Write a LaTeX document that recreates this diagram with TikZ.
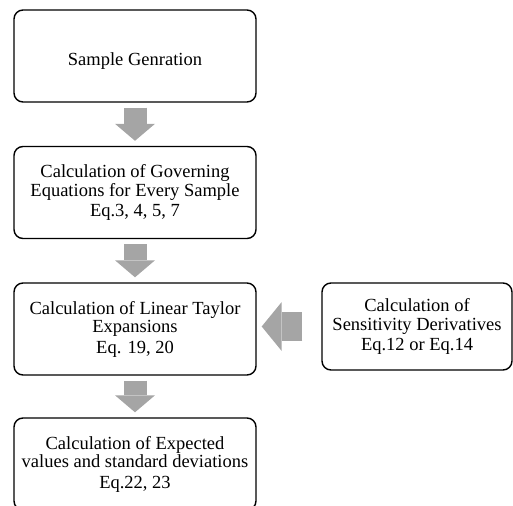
\documentclass[tikz,border=0pt]{standalone}
\usepackage{fontspec}
\setmainfont{Liberation Serif}
\usetikzlibrary{arrows.meta}
\definecolor{arrowgray}{HTML}{A5A5A5}

\begin{document}
\begin{tikzpicture}[x=1pt,y=-1pt,
  box/.style={draw,line width=1.4pt,rounded corners=9pt,
    minimum width=242pt,minimum height=92pt,inner sep=0pt,
    font=\fontsize{18.5}{18.5}\selectfont},
  steps/.style={box,align=center},
  flow/.style={draw=arrowgray,line width=23pt,shorten <=5pt,shorten >=5pt,
    -{Triangle[length=17pt,width=40pt,line width=0pt]}}]
\useasboundingbox (0,0) rectangle (513,505);
\node[box,text height=22pt,text depth=2pt] (gen) at (135,56) {Sample Genration};
\node[steps] (gov) at (135,192.5) {Calculation of Governing\\Equations for Every Sample\\[2pt]Eq.3, 4, 5, 7};
\node[steps] (lin) at (135,329) {Calculation of Linear Taylor\\Expansions\\[2pt]Eq. 19, 20};
\node[steps] (exp) at (135,464) {Calculation of Expected\\values and standard deviations\\[2pt]Eq.22, 23};
\node[steps,minimum width=190pt,minimum height=87pt] (sens) at (417,326.5) {Calculation of\\Sensitivity Derivatives\\[2pt]Eq.12 or Eq.14};
\draw[flow] (gen) -- (gov);
\draw[flow] (gov) -- (lin);
\draw[flow] (lin) -- (exp);
\draw[flow,line width=29pt,shorten <=19pt,-{Triangle[length=20pt,width=49pt,line width=0pt]}] (sens.west) -- (sens.west -| lin.east);
\end{tikzpicture}
\end{document}
